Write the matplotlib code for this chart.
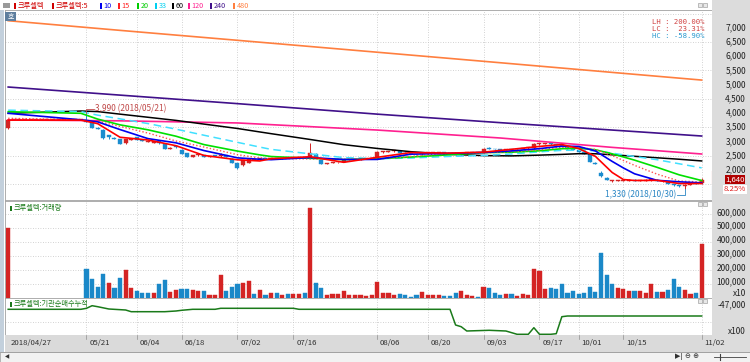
import numpy as np
import pandas as pd
import matplotlib
matplotlib.use('Agg')
import matplotlib.pyplot as plt
import matplotlib.transforms as mtransforms
from matplotlib.patches import Rectangle

plt.rcParams['font.family'] = ['Noto Sans CJK KR', 'DejaVu Sans']

W, H = 750, 362

# KRX trading days 2018-04-27 .. 2018-11-02
holidays = ['2018-05-01', '2018-05-07', '2018-05-22', '2018-06-06', '2018-06-13',
            '2018-08-15', '2018-09-24', '2018-09-25', '2018-09-26', '2018-10-03',
            '2018-10-09']
days = pd.bdate_range('2018-04-27', '2018-11-02', freq='C', holidays=holidays)

tick_days = ['2018-04-27', '2018-05-21', '2018-06-04', '2018-06-18', '2018-07-02',
             '2018-07-16', '2018-08-06', '2018-08-20', '2018-09-03', '2018-09-17',
             '2018-10-01', '2018-10-15', '2018-11-02']
tick_labels = ['2018/04/27', '05/21', '06/04', '06/18', '07/02', '07/16', '08/06',
               '08/20', '09/03', '09/17', '10/01', '10/15', '11/02']

opens = [3460, 3750, 3750, 3750, 3750, 3750, 3750, 3750, 3750, 3750,
         3750, 3750, 3750, 3750, 3760, 3670, 3480, 3400, 3220, 3130,
         3070, 2935, 3060, 3160, 3050, 2990, 2960, 3000, 2900, 2750,
         2840, 2700, 2590, 2455, 2510, 2520, 2460, 2500, 2470, 2520,
         2380, 2240, 2170, 2250, 2340, 2370, 2400, 2380, 2420, 2400,
         2420, 2410, 2420, 2450, 2450, 2560, 2340, 2210, 2240, 2260,
         2280, 2330, 2350, 2370, 2390, 2400, 2450, 2620, 2640, 2650,
         2660, 2600, 2570, 2560, 2540, 2580, 2590, 2600, 2610, 2580,
         2570, 2540, 2580, 2590, 2600, 2600, 2780, 2740, 2720, 2710,
         2740, 2720, 2740, 2760, 2760, 2900, 2920, 2940, 2900, 2880,
         2800, 2750, 2690, 2620, 2590, 2250, 1900, 1720, 1610, 1600,
         1610, 1620, 1650, 1610, 1620, 1630, 1650, 1590, 1600, 1500,
         1450, 1420, 1480, 1540, 1520]
highs = [3780, 3750, 3750, 3750, 3750, 3750, 3750, 3750, 3750, 3750,
         3750, 3750, 3750, 3750, 3990, 3700, 3500, 3420, 3240, 3150,
         3090, 3100, 3110, 3170, 3060, 3030, 3030, 3010, 2910, 2790,
         2850, 2720, 2600, 2530, 2550, 2530, 2490, 2510, 2600, 2530,
         2400, 2250, 2350, 2400, 2390, 2420, 2410, 2430, 2430, 2430,
         2430, 2440, 2450, 2460, 2944, 2580, 2360, 2250, 2270, 2290,
         2340, 2360, 2380, 2400, 2410, 2430, 2650, 2660, 2670, 2680,
         2670, 2610, 2580, 2570, 2590, 2600, 2610, 2620, 2620, 2590,
         2580, 2590, 2600, 2610, 2610, 2780, 2790, 2750, 2730, 2740,
         2750, 2750, 2770, 2790, 2960, 2950, 2960, 2950, 2910, 2890,
         2810, 2760, 2700, 2630, 2600, 2260, 1950, 1740, 1650, 1650,
         1650, 1660, 1660, 1650, 1660, 1700, 1660, 1630, 1610, 1510,
         1460, 1500, 1550, 1550, 1700]
lows = [3440, 3750, 3750, 3750, 3750, 3750, 3750, 3750, 3750, 3750,
        3750, 3750, 3750, 3750, 3680, 3460, 3420, 3100, 3085, 3080,
        2910, 2920, 3040, 3040, 3000, 2980, 2950, 2920, 2720, 2740,
        2770, 2550, 2440, 2440, 2500, 2450, 2450, 2470, 2460, 2440,
        2230, 2040, 2150, 2240, 2330, 2360, 2370, 2370, 2390, 2390,
        2400, 2400, 2410, 2420, 2420, 2400, 2200, 2200, 2230, 2250,
        2270, 2320, 2340, 2360, 2380, 2390, 2440, 2600, 2630, 2640,
        2590, 2560, 2550, 2530, 2530, 2570, 2580, 2590, 2570, 2550,
        2530, 2530, 2570, 2580, 2580, 2590, 2720, 2710, 2700, 2700,
        2710, 2710, 2730, 2750, 2750, 2880, 2910, 2890, 2870, 2790,
        2740, 2690, 2610, 2550, 2270, 2200, 1750, 1640, 1580, 1590,
        1600, 1610, 1610, 1600, 1610, 1620, 1590, 1580, 1490, 1440,
        1410, 1330, 1470, 1500, 1500]
closes = [3750, 3750, 3750, 3750, 3750, 3750, 3750, 3750, 3750, 3750,
          3750, 3750, 3750, 3750, 3700, 3485, 3440, 3130, 3140, 3100,
          2920, 3080, 3090, 3050, 3020, 3010, 3015, 2935, 2735, 2770,
          2790, 2560, 2455, 2520, 2540, 2460, 2470, 2480, 2520, 2450,
          2240, 2070, 2340, 2380, 2370, 2400, 2380, 2420, 2400, 2420,
          2410, 2430, 2440, 2430, 2590, 2420, 2210, 2240, 2260, 2280,
          2330, 2350, 2370, 2390, 2400, 2420, 2620, 2640, 2650, 2660,
          2600, 2570, 2560, 2540, 2580, 2590, 2600, 2610, 2580, 2560,
          2540, 2580, 2590, 2600, 2590, 2750, 2730, 2720, 2710, 2730,
          2720, 2740, 2760, 2780, 2910, 2930, 2940, 2900, 2880, 2800,
          2750, 2700, 2620, 2560, 2280, 2210, 1780, 1650, 1610, 1620,
          1630, 1640, 1620, 1630, 1640, 1660, 1600, 1610, 1500, 1450,
          1420, 1480, 1530, 1515, 1640]
# volume as shown on the axis (x10)
volumes = [500000, 0, 0, 0, 0, 0, 0, 0, 0, 0,
           0, 0, 0, 0, 206000, 137000, 79000, 171000, 103000, 66000,
           142000, 198000, 66000, 44000, 29000, 29000, 34000, 100000, 127000, 39000,
           54000, 59000, 59000, 54000, 44000, 44000, 15000, 20000, 162000, 49000,
           79000, 98000, 108000, 122000, 27000, 54000, 20000, 29000, 34000, 15000,
           27000, 27000, 27000, 34000, 650000, 108000, 66000, 20000, 24000, 24000,
           49000, 15000, 15000, 15000, 10000, 20000, 113000, 29000, 29000, 15000,
           27000, 20000, 5000, 15000, 39000, 20000, 15000, 15000, 10000, 10000,
           29000, 44000, 15000, 10000, 5000, 73000, 66000, 34000, 15000, 24000,
           24000, 10000, 24000, 17000, 203000, 193000, 59000, 66000, 59000, 96000,
           34000, 49000, 27000, 34000, 73000, 39000, 318000, 162000, 98000, 66000,
           59000, 44000, 44000, 49000, 29000, 100000, 39000, 39000, 52000, 132000,
           73000, 54000, 27000, 29000, 385000]

# moving averages
short_idx = [0, 13, 16, 20, 25, 30, 35, 41, 45, 47, 54, 60, 66, 72, 79, 85, 90, 95,
             99, 102, 105, 108, 110, 112, 116, 120, 124]
ma5 = [3750, 3750, 3625, 3146, 3050, 2849, 2507, 2352, 2312, 2390, 2460, 2264, 2440,
       2608, 2588, 2622, 2722, 2824, 2890, 2750, 2474, 1906, 1658, 1624, 1630, 1516,
       1517]
ma10 = [3990, 3760, 3688, 3417, 3098, 2950, 2678, 2421, 2372, 2357, 2432, 2363, 2366,
        2551, 2579, 2610, 2667, 2745, 2836, 2821, 2664, 2296, 2066, 1860, 1630, 1577,
        1540]
ma15 = [3813, 3760, 3708, 3528, 3294, 3015, 2802, 2533, 2417, 2403, 2381, 2377, 2383,
        2473, 2585, 2596, 2637, 2701, 2797, 2791, 2717, 2501, 2329, 2157, 1850, 1604,
        1571]
ma20 = [4045, 3990, 3786, 3583, 3408, 3183, 2888, 2659, 2525, 2468, 2405, 2361, 2392,
        2450, 2531, 2606, 2620, 2670, 2743, 2761, 2705, 2563, 2453, 2341, 2089, 1822,
        1622]
ma33 = [4100, 4050, 3925, 3794, 3628, 3431, 3218, 2967, 2800, 2720, 2563, 2431, 2392,
        2415, 2472, 2505, 2557, 2633, 2685, 2688, 2668, 2587, 2527, 2470, 2356, 2212,
        2068]
ma60 = [3990, 4070, 4050, 3960, 3850, 3740, 3610, 3455, 3333, 3273, 3068, 2885, 2752,
        2638, 2544, 2501, 2490, 2517, 2543, 2567, 2565, 2529, 2503, 2476, 2424, 2372,
        2312]
long_idx = [0, 20, 41, 66, 88, 108, 124]
ma120 = [3754, 3725, 3650, 3400, 3120, 2790, 2557]
ma240 = [4915, 4630, 4330, 3960, 3660, 3400, 3190]
ma480 = [7250, 6910, 6560, 6140, 5770, 5430, 5160]

# institutional net buying, cumulative (x100)
inst_idx = [0, 13, 14, 15, 16, 18, 21, 22, 28, 30, 31, 33, 37, 38, 51, 52, 79, 80, 81,
            82, 86, 89, 91, 93, 94, 95, 97, 98, 99, 100, 124]
inst_val = [-55600, -55600, -53600, -48400, -50400, -55000, -57000, -60400, -60400,
            -59000, -57600, -55600, -55600, -53600, -53600, -55600, -55600, -87000,
            -90400, -99000, -97600, -99000, -105600, -105600, -92400, -105600,
            -105600, -104400, -70400, -69000, -69000]

UP, DOWN = '#d42424', '#1a8ccf'
GRID = dict(color='#c4c4c4', linestyle=(0, (1, 2)), linewidth=0.6)


def fx(px):
    return px / W


def fy(py):
    return 1 - py / H


fig = plt.figure(figsize=(W / 100, H / 100), dpi=100)
fig.patch.set_facecolor('white')

# background chrome
fig.patches.append(Rectangle((fx(712), fy(352)), 38 / W, 352 / H, transform=fig.transFigure,
                             facecolor='#dcdcdc', edgecolor='none', zorder=0))
fig.patches.append(Rectangle((0, fy(352)), 4 / W, 342 / H, transform=fig.transFigure,
                             facecolor='#c3d0dc', edgecolor='none', zorder=0))
fig.patches.append(Rectangle((fx(5), fy(352)), 707 / W, 17 / H, transform=fig.transFigure,
                             facecolor='#dadada', edgecolor='none', zorder=0))
fig.patches.append(Rectangle((0, 0), 1, 10 / H, transform=fig.transFigure,
                             facecolor='#f2f2f2', edgecolor='#a8a8a8', lw=0.6, zorder=0))


def axes_px(left, top, right, bottom):
    return fig.add_axes([fx(left), fy(bottom), (right - left) / W, (bottom - top) / H])


ax_p = axes_px(5, 10, 712, 200)
ax_v = axes_px(5, 201, 712, 298)
ax_i = axes_px(5, 298, 712, 335)

x = np.arange(len(days))
tick_pos = [days.get_loc(pd.Timestamp(d)) for d in tick_days]
for ax in (ax_p, ax_v, ax_i):
    ax.set_xlim(-0.57, 125.85)
    ax.set_xticks(tick_pos[1:])
    ax.tick_params(length=0, labelleft=False, labelbottom=False)
    ax.grid(True, **GRID)
    ax.set_axisbelow(True)
    for s in ax.spines.values():
        s.set_color('#a0a0a0')
        s.set_linewidth(0.6)

# ---- price panel
o, h, l, c = map(np.array, (opens, highs, lows, closes))
col = np.where(c >= o, UP, DOWN)
ax_p.set_ylim(937, 7627)
ax_p.set_yticks(np.arange(1500, 8000, 1000))
ax_p.vlines(x, l, h, colors=col, lw=0.7, zorder=2)
ax_p.bar(x, np.maximum(np.abs(c - o), 30), bottom=np.minimum(o, c), width=0.72,
         color=col, edgecolor=col, lw=0.3, zorder=2)

ax_p.plot(long_idx, ma480, color='#ff7f3f', lw=1.2, zorder=3)
ax_p.plot(long_idx, ma240, color='#40108a', lw=1.2, zorder=3)
ax_p.plot(long_idx, ma120, color='#ff2090', lw=1.2, zorder=3)
ax_p.plot(short_idx, ma60, color='#000000', lw=1.1, zorder=3)
ax_p.plot(short_idx, ma33, color='#40e0ff', lw=1.1, ls=(0, (5, 3)), zorder=3)
ax_p.plot(short_idx, ma20, color='#00e000', lw=1.2, zorder=3)
ax_p.plot(short_idx, ma15, color='#ff5050', lw=1.0, ls=(0, (1, 1.5)), zorder=3)
ax_p.plot(short_idx, ma10, color='#0000ee', lw=1.2, zorder=3)
ax_p.plot(short_idx, ma5, color='#ff0000', lw=1.2, zorder=3)

# high / low annotations
hi = int(np.argmax(h))
lo = int(np.argmin(l))
ax_p.plot([hi, hi, hi + 1.3], [h[hi], 4140, 4140], color='#c04848', lw=0.6, zorder=4)
ax_p.text(hi + 1.6, 4140, '3,990 (2018/05/21)', color='#c04848', fontsize=6,
          va='center', ha='left', zorder=5)
ax_p.plot([lo - 1.4, lo, lo], [1114, 1114, l[lo]], color='#2a86c4', lw=0.6, zorder=4)
ax_p.text(lo - 1.6, 1114, '1,330 (2018/10/30)', color='#2a86c4', fontsize=6,
          va='center', ha='right', zorder=5)

fig.text(fx(705), fy(22.5), 'LH : 200.00%', color='#d04040', fontsize=5.2,
         family='DejaVu Sans Mono', ha='right', va='center')
fig.text(fx(705), fy(29.3), 'LC :  23.31%', color='#d04040', fontsize=5.2,
         family='DejaVu Sans Mono', ha='right', va='center')
fig.text(fx(705), fy(36), 'HC : -58.90%', color='#2a9ad0', fontsize=5.2,
         family='DejaVu Sans Mono', ha='right', va='center')

trans_p = mtransforms.blended_transform_factory(fig.transFigure, ax_p.transData)
for v in range(2000, 7001, 500):
    fig.text(fx(746), v, f'{v:,}', transform=trans_p, fontsize=6, ha='right',
             va='center', color='#202020')
last = c[-1]
chg = (c[-1] / c[-2] - 1) * 100
fig.text(fx(735), last + 20, f'{last:,}', transform=trans_p, fontsize=5.6, ha='center',
         va='center', color='white',
         bbox=dict(boxstyle='square,pad=0.08', facecolor='#b00000', edgecolor='none'))
fig.text(fx(735), 1320, f'{chg:.2f}%', transform=trans_p, fontsize=5.6, ha='center',
         va='center', color='#e02020',
         bbox=dict(boxstyle='square,pad=0.05', facecolor='white', edgecolor='none'))
ax_p.plot([126.0, 126.0], [1930, 1535], color='#d02020', lw=1.5, clip_on=False)
ax_p.plot([126.0, 126.0], [1400, 1000], color='#2a86c4', lw=1.5, clip_on=False)
ax_p.plot([126.9], [last], marker='<', color='#d02020', ms=3.5, clip_on=False)

# ---- volume panel
ax_v.set_ylim(-3600, 697000)
ax_v.set_yticks(np.arange(100000, 700000, 100000))
vol = np.array(volumes)
prev = np.r_[o[0], c[:-1]]
vcol = np.where(c >= prev, '#d42424', '#1a88c8')
m = vol > 0
ax_v.bar(x[m], vol[m], width=0.74, color=vcol[m], edgecolor=vcol[m], lw=0.3, zorder=2)
trans_v = mtransforms.blended_transform_factory(fig.transFigure, ax_v.transData)
for v in range(100000, 700000, 100000):
    fig.text(fx(746), v + 15000, f'{v:,}', transform=trans_v, fontsize=6, ha='right',
             va='center', color='#202020')
fig.text(fx(746), fy(293), 'x10', fontsize=6, ha='right', va='center', color='#202020')

# ---- institution cumulative panel
ax_i.set_ylim(-107000, -33000)
ax_i.set_yticks([-80000])
ax_i.plot(inst_idx, inst_val, color='#1a7a1a', lw=1.1, zorder=3)
fig.text(fx(746), fy(305), '-47,000', fontsize=6, ha='right', va='center', color='#202020')
fig.text(fx(746), fy(331), 'x100', fontsize=6, ha='right', va='center', color='#202020')

# panel titles
for px_y, label in ((208, '크루셀텍:거래량'), (304, '크루셀텍:기관순매수누적')):
    fig.patches.append(Rectangle((fx(10), fy(px_y + 2.5)), 2 / W, 5 / H,
                                 transform=fig.transFigure, facecolor='#1a7a1a'))
    fig.text(fx(14), fy(px_y), label, fontsize=5.2, color='#1a7a1a', va='center')

# header legend
legend_items = [('크루셀텍', '#d00000', 14), ('크루셀텍:5', '#d00000', 52),
                ('10', '#0000ee', 100), ('15', '#ff2020', 118), ('20', '#00cc00', 137),
                ('33', '#00d0f0', 155), ('60', '#000000', 172), ('120', '#ff2090', 188),
                ('240', '#40108a', 210), ('480', '#ff7f3f', 233)]
for label, color, px_x in legend_items:
    fig.patches.append(Rectangle((fx(px_x), fy(8.5)), 2 / W, 5 / H,
                                 transform=fig.transFigure, facecolor=color))
    fig.text(fx(px_x + 3.5), fy(6), label, fontsize=5.2, color=color, va='center')
fig.patches.append(Rectangle((fx(3), fy(8)), 7 / W, 5 / H, transform=fig.transFigure,
                             facecolor='#9a9a9a', edgecolor='none'))
fig.patches.append(Rectangle((fx(5), fy(21)), 11 / W, 9 / H, transform=fig.transFigure,
                             facecolor='#5e7e9e', edgecolor='none', zorder=5))
fig.text(fx(10.5), fy(16.5), '호', fontsize=5, color='white', ha='center', va='center',
         zorder=6)

# small panel buttons
for py in (5, 204, 301):
    for px_x in (698, 703):
        fig.patches.append(Rectangle((fx(px_x), fy(py + 2)), 4 / W, 4 / H,
                                     transform=fig.transFigure, facecolor='#e8e8e8',
                                     edgecolor='#909090', lw=0.4, zorder=5))

# date axis labels
trans_d = mtransforms.blended_transform_factory(ax_p.transData, fig.transFigure)
for pos, label in zip(tick_pos, tick_labels):
    fig.text(pos + 0.5, fy(343.5), label, transform=trans_d, fontsize=5.6,
             color='#303030', ha='left', va='center')
    if pos > 0:
        fig.lines.append(plt.Line2D([pos, pos], [fy(335), fy(339)], transform=trans_d,
                                    color='#909090', lw=0.5))

# bottom scroll bar
fig.lines.append(plt.Line2D([0, 1], [fy(352), fy(352)], transform=fig.transFigure,
                            color='#a0a0a0', lw=0.6))
fig.text(fx(5), fy(357), '◀', fontsize=4, color='#303030', va='center',
         family='DejaVu Sans')
fig.text(fx(675), fy(357), '▶| ⊖ ⊕', fontsize=5, color='#303030', va='center',
         family='DejaVu Sans')
fig.lines.append(plt.Line2D([fx(714), fx(746)], [fy(357), fy(357)],
                            transform=fig.transFigure, color='#404040', lw=0.6))
fig.lines.append(plt.Line2D([fx(720), fx(720)], [fy(354), fy(360)],
                            transform=fig.transFigure, color='#404040', lw=0.8))

fig.savefig('out.png', dpi=100)
